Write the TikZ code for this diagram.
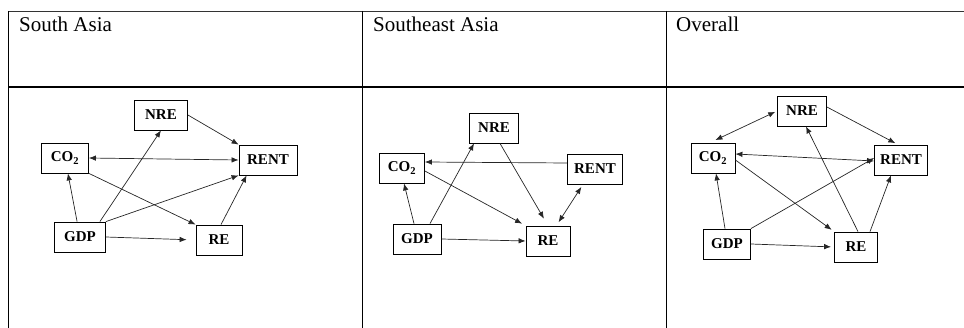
\documentclass[tikz,border=0pt]{standalone}
\usepackage{fontspec}
\setmainfont{Liberation Serif}
\usepackage{xcolor}
\usetikzlibrary{arrows.meta}

\begin{document}
\begin{tikzpicture}[x=1pt, y=-1pt, >={Latex[length=7pt, width=5.5pt]},
    var/.style={draw, line width=0.8pt, minimum height=30pt, inner sep=2pt, font=\bfseries\fontsize{15}{15}\selectfont},
    link/.style={->, line width=0.7pt, black!85},
    both/.style={<->, line width=0.7pt, black!85},
    head/.style={anchor=base west, inner sep=0pt, font=\fontsize{21}{21}\selectfont}]
            \useasboundingbox (0, 0) rectangle (964, 328);
            \coordinate (TL) at (8, 11);
            \coordinate (TR) at (964, 11);
            \coordinate (ML) at (8, 87);
            \coordinate (MR) at (964, 87);

            \draw[line width=0.9pt, black!80] (TL) -- (TR);
            \draw[line width=1.6pt] (ML) -- (MR);
            \draw[line width=0.9pt] (TL) -- (8, 328);
            \draw[line width=0.9pt] (362.5, 11) -- (362.5, 328);
            \draw[line width=0.9pt] (666.5, 11) -- (666.5, 328);

            \node[head] (h1) at (19, 32) {South Asia};
            \node[head] (h2) at (373, 32) {Southeast Asia};
            \node[head] (h3) at (676, 32) {Overall};

            \node[var, minimum width=53pt] (sa-nre) at (161, 115) {NRE};
            \node[var, minimum width=47pt] (sa-co2) at (65, 158) {CO\textsubscript{2}};
            \node[var, minimum width=58pt] (sa-rent) at (268, 160) {RENT};
            \node[var, minimum width=51pt] (sa-gdp) at (80, 237) {GDP};
            \node[var, minimum width=46pt] (sa-re) at (219, 240) {RE};

            \draw[link] (sa-nre.east) -- (sa-rent.north west);
            \draw[both] (sa-co2.east) -- (sa-rent.west);
            \draw[link] (sa-gdp) -- (sa-co2);
            \draw[link] ([xshift=-6pt]sa-gdp.north east) -- (sa-nre.south);
            \draw[link] (sa-gdp.north east) -- (sa-rent.south west);
            \draw[link] (sa-co2.south east) -- (sa-re.north west);
            \draw[link, shorten >=9pt] (sa-gdp.east) -- (sa-re.west);
            \draw[link] ([xshift=2pt]sa-re.north) -- ([xshift=8pt]sa-rent.south west);

            \node[var, minimum width=49pt] (se-nre) at (494, 128) {NRE};
            \node[var, minimum width=45pt] (se-co2) at (402, 168) {CO\textsubscript{2}};
            \node[var, minimum width=55pt] (se-rent) at (595, 169) {RENT};
            \node[var, minimum width=48pt] (se-gdp) at (417, 239) {GDP};
            \node[var, minimum width=44pt] (se-re) at (548, 241) {RE};

            \draw[link] ([yshift=6pt]se-rent.west) -- ([yshift=6pt]se-co2.east);
            \draw[link] ([xshift=-3pt]se-gdp.north) -- ([xshift=2pt]se-co2.south);
            \draw[link] ([xshift=13pt]se-gdp.north) -- ([xshift=-20pt]se-nre.south);
            \draw[link, shorten >=4pt] ([yshift=-3pt]se-co2.east) -- (se-re.north west);
            \draw[link, shorten >=8pt] ([xshift=6pt]se-nre.south) -- (se-re.north);
            \draw[both, shorten <=3pt, shorten >=4pt] ([xshift=-12pt]se-rent.south) -- ([xshift=-14pt]se-re.north east);
            \draw[link] (se-gdp.east) -- (se-re.west);

            \node[var, minimum width=49pt] (ov-nre) at (802, 111) {NRE};
            \node[var, minimum width=44pt] (ov-co2) at (713, 158) {CO\textsubscript{2}};
            \node[var, minimum width=53pt] (ov-rent) at (901, 160) {RENT};
            \node[var, minimum width=47pt] (ov-gdp) at (727, 244) {GDP};
            \node[var, minimum width=43pt] (ov-re) at (856, 247) {RE};

            \draw[both, shorten <=6pt, shorten >=2pt] ([xshift=-3pt]ov-co2.north) -- (ov-nre.west);
            \draw[link, shorten >=3pt] ([yshift=4pt]ov-nre.east) -- ([xshift=-3pt]ov-rent.north);
            \draw[both] ([yshift=4pt]ov-co2.east) -- ([yshift=-1pt]ov-rent.west);
            \draw[link, shorten >=3pt] ([yshift=-2pt]ov-co2.east) -- (ov-re.north west);
            \draw[link] ([xshift=-2pt]ov-gdp.north) -- ([xshift=3pt]ov-co2.south);
            \draw[link] (ov-gdp.north east) -- ([yshift=2pt]ov-rent.west);
            \draw[link, shorten >=3pt] (ov-gdp.east) -- (ov-re.west);
            \draw[link] ([xshift=2pt]ov-re.north) -- ([xshift=4pt]ov-nre.south);
            \draw[link] ([xshift=14pt]ov-re.north) -- ([xshift=-10pt]ov-rent.south);
        \end{tikzpicture}
\end{document}
